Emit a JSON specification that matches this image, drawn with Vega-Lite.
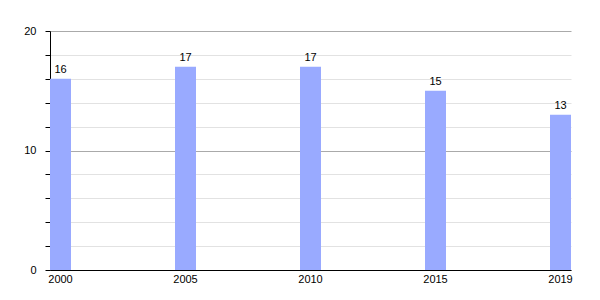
{
  "$schema": "https://vega.github.io/schema/vega-lite/v6.json",
  "width": 521,
  "height": 239,
  "autosize": {"type": "none"},
  "padding": {"left": 50, "top": 31, "right": 29, "bottom": 30},
  "background": "white",
  "config": {
    "view": {"stroke": null},
    "font": "Liberation Sans"
  },
  "data": {
    "values": [
      {"year": "2000", "value": 16},
      {"year": "2005", "value": 17},
      {"year": "2010", "value": 17},
      {"year": "2015", "value": 15},
      {"year": "2019", "value": 13}
    ]
  },
  "encoding": {
    "x": {
      "field": "year",
      "type": "ordinal",
      "sort": null,
      "scale": {"paddingInner": 0.832, "paddingOuter": 0},
      "axis": {
        "title": null,
        "labelAngle": 0,
        "ticks": false,
        "labelPadding": 3,
        "labelFontSize": 11,
        "labelColor": "black",
        "domainColor": "black",
        "domainWidth": 1
      }
    },
    "y": {
      "field": "value",
      "type": "quantitative",
      "scale": {"domain": [0, 20], "nice": false},
      "axis": {
        "title": null,
        "values": [0, 2, 4, 6, 8, 10, 12, 14, 16, 18, 20],
        "labelExpr": "datum.value % 10 === 0 ? datum.label : ''",
        "grid": true,
        "gridColor": {"condition": {"test": "datum.value % 10 === 0", "value": "#aaaaaa"}, "value": "#e2e2e2"},
        "tickColor": "black",
        "tickSize": 5,
        "labelPadding": 9,
        "labelFontSize": 11,
        "labelColor": "black",
        "domainColor": "black"
      }
    }
  },
  "layer": [
    {"mark": {"type": "bar", "color": "#99aaff"}},
    {
      "mark": {"type": "text", "dy": -9, "fontSize": 11, "color": "black"},
      "encoding": {"text": {"field": "value", "type": "quantitative"}}
    }
  ]
}
